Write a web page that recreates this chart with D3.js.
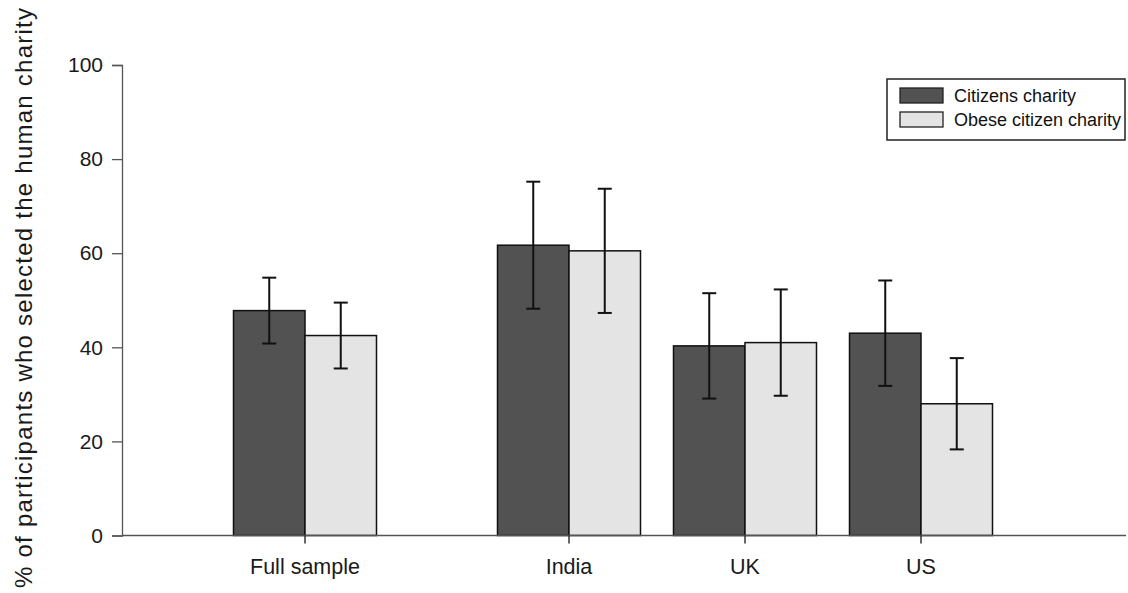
<!DOCTYPE html>
<html><head><meta charset="utf-8">
<script src="https://cdn.jsdelivr.net/npm/d3@7"></script>
<style>body{margin:0;background:#fff}svg{display:block}text{font-family:"Liberation Sans",Arial,sans-serif}</style>
</head><body><svg id="c" width="1128" height="593"></svg>
<script>
const categories = ["Full sample", "India", "UK", "US"];
const seriesNames = ["Citizens charity", "Obese citizen charity"];
const citizens = [47.8, 61.7, 40.3, 43.0];
const citizensErr = [7.0, 13.5, 11.2, 11.2];
const obese = [42.5, 60.5, 41.0, 28.0];
const obeseErr = [7.0, 13.2, 11.3, 9.7];
const yTicks = [0, 20, 40, 60, 80, 100];
const colors = ["#525252", "#e4e4e4"];

const svg = d3.select("#c");
const y = d3.scaleLinear().domain([0, 100]).range([535.5, 65]);
// group positions: extra half-step gap after the full sample
const slot = (i) => i + (i > 0 ? 0.5 : 0);
const x = d3.scaleLinear().domain([0, 3.5]).range([305, 921]);
const barW = 71.5;

// y axis
const yAxis = d3.axisLeft(y).tickValues(yTicks).tickSize(10).tickPadding(9);
const gy = svg.append("g").attr("transform", "translate(122,0)").call(yAxis);
gy.select(".domain").attr("stroke", "#555").attr("stroke-width", 1.3);
gy.selectAll(".tick line").attr("stroke", "#555").attr("stroke-width", 1.3);
gy.selectAll("text").attr("font-size", 21).attr("fill", "#1a1a1a").attr("font-family", "Liberation Sans, Arial, sans-serif");

// bars
const series = [
  {vals: citizens, err: citizensErr, off: -1},
  {vals: obese, err: obeseErr, off: 0}
];
series.forEach((s, si) => {
  const g = svg.append("g");
  g.selectAll("rect").data(s.vals).join("rect")
    .attr("x", (d, i) => x(slot(i)) + s.off * barW)
    .attr("y", d => y(d))
    .attr("width", barW)
    .attr("height", d => y(0) - y(d))
    .attr("fill", colors[si]).attr("stroke", "#111").attr("stroke-width", 1.5);
  const eg = g.selectAll("g.err").data(s.vals).join("g").attr("class", "err");
  eg.each(function(d, i) {
    const cx = x(slot(i)) + s.off * barW + barW / 2;
    const e = d3.select(this);
    e.append("line").attr("x1", cx).attr("x2", cx).attr("y1", y(d + s.err[i])).attr("y2", y(d - s.err[i]));
    e.append("line").attr("x1", cx - 7).attr("x2", cx + 7).attr("y1", y(d + s.err[i])).attr("y2", y(d + s.err[i]));
    e.append("line").attr("x1", cx - 7).attr("x2", cx + 7).attr("y1", y(d - s.err[i])).attr("y2", y(d - s.err[i]));
    e.selectAll("line").attr("stroke", "#111").attr("stroke-width", 2);
  });
});

// x axis baseline and ticks
svg.append("line").attr("x1", 122).attr("x2", 1126).attr("y1", y(0)).attr("y2", y(0))
  .attr("stroke", "#555").attr("stroke-width", 1.3);
const gx = svg.append("g");
categories.forEach((c, i) => {
  const cx = x(slot(i));
  gx.append("line").attr("x1", cx).attr("x2", cx).attr("y1", y(0)).attr("y2", y(0) + 8)
    .attr("stroke", "#333").attr("stroke-width", 1.5);
  gx.append("text").attr("x", cx).attr("y", 574).attr("text-anchor", "middle")
    .attr("font-size", 21.5).attr("fill", "#1a1a1a").text(c);
});

// y title
svg.append("text").attr("transform", "translate(32,298) rotate(-90)")
  .attr("text-anchor", "middle").attr("font-size", 24).attr("fill", "#1a1a1a")
  .attr("textLength", 580).attr("lengthAdjust", "spacing")
  .text("% of participants who selected the human charity");

// legend
const lg = svg.append("g");
lg.append("rect").attr("x", 887).attr("y", 79).attr("width", 238).attr("height", 61)
  .attr("fill", "#fff").attr("stroke", "#222").attr("stroke-width", 1.5);
seriesNames.forEach((n, i) => {
  lg.append("rect").attr("x", 900).attr("y", 88 + i * 24).attr("width", 43).attr("height", 15)
    .attr("fill", colors[i]).attr("stroke", "#222").attr("stroke-width", 1.3);
  lg.append("text").attr("x", 954).attr("y", 102 + i * 24).attr("font-size", 18).attr("fill", "#111").text(n);
});
</script></body></html>
